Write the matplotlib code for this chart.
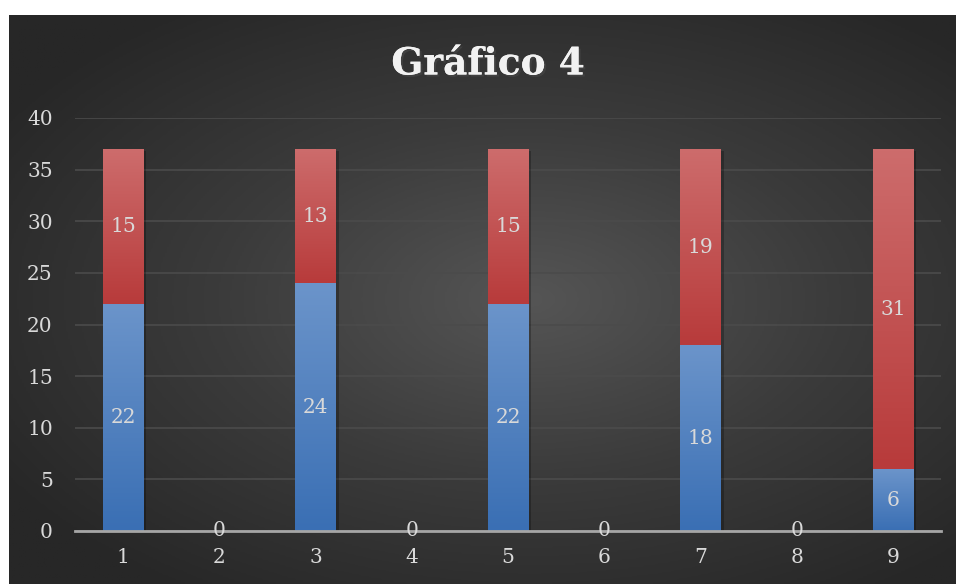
import numpy as np
import matplotlib
matplotlib.use("Agg")
import matplotlib.pyplot as plt
import matplotlib.patheffects as pe
from matplotlib.colors import LinearSegmentedColormap

# datos del gráfico
categorias = [1, 2, 3, 4, 5, 6, 7, 8, 9]
serie_azul = [22, 0, 24, 0, 22, 0, 18, 0, 6]
serie_roja = [15, 0, 13, 0, 15, 0, 19, 0, 31]
titulo = "Gráfico 4"

plt.rcParams['font.family'] = ['DejaVu Serif']
texto_col = '#d9d9d9'
tam = 14.5


def main():
    fig = plt.figure(figsize=(9.57, 5.84), dpi=100)

    # fondo oscuro con degradado radial
    bg = fig.add_axes([9 / 957, 0, 946 / 957, 569 / 584])
    yy, xx = np.mgrid[-1:1:300j, -1:1:500j]
    r = np.sqrt(((xx - 0.1) * 0.95) ** 2 + (yy * 1.0) ** 2)
    r = np.clip(r / 1.25, 0, 1)
    cmap_bg = LinearSegmentedColormap.from_list('bg', ['#555555', '#3b3b3b', '#272727'])
    bg.imshow(r, cmap=cmap_bg, aspect='auto', extent=[0, 1, 0, 1], vmin=0, vmax=1)
    bg.axis('off')

    ax = fig.add_axes([75 / 957, 1 - 531 / 584, 866 / 957, 413 / 584])
    ax.patch.set_alpha(0)
    x = np.array(categorias)
    ancho = 0.42

    b1 = ax.bar(x, serie_azul, width=ancho, color='none', zorder=3)
    b2 = ax.bar(x, serie_roja, width=ancho, bottom=serie_azul, color='none', zorder=3)

    grad = np.linspace(1, 0, 100).reshape(-1, 1)
    cmap_azul = LinearSegmentedColormap.from_list('az', ['#3a6fb4', '#6b94ca'])
    cmap_rojo = LinearSegmentedColormap.from_list('ro', ['#b83b3b', '#cd6c6c'])
    for barras, cm in ((b1, cmap_azul), (b2, cmap_rojo)):
        for p in barras:
            if p.get_height() <= 0:
                continue
            x0, y0 = p.get_x(), p.get_y()
            w, h = p.get_width(), p.get_height()
            # sombra
            ax.add_patch(plt.Rectangle((x0 + 0.03, y0 - 0.15), w, h, color='black',
                                       alpha=0.25, zorder=2, lw=0))
            im = ax.imshow(grad, cmap=cm, aspect='auto', extent=[x0, x0 + w, y0, y0 + h],
                           zorder=3, vmin=0, vmax=1)
            im.set_clip_path(p)

    # etiquetas de datos
    for xi, a, r_ in zip(x, serie_azul, serie_roja):
        if a == 0 and r_ == 0:
            ax.text(xi, 0, '0', ha='center', va='center', color=texto_col, fontsize=tam, zorder=5)
            continue
        ax.text(xi, a / 2, str(a), ha='center', va='center', color=texto_col, fontsize=tam, zorder=5)
        ax.text(xi, a + r_ / 2, str(r_), ha='center', va='center', color=texto_col, fontsize=tam, zorder=5)

    ax.set_xlim(0.5, 9.5)
    ax.set_ylim(0, 40)
    ax.set_yticks(range(0, 41, 5))
    ax.set_xticks(x)
    ax.set_xticklabels([str(c) for c in categorias])
    ax.yaxis.grid(True, color='#4b4b4b', lw=1.2, zorder=0)
    ax.set_axisbelow(True)
    for s in ['top', 'right', 'left']:
        ax.spines[s].set_visible(False)
    ax.spines['bottom'].set_color('#a6a6a6')
    ax.spines['bottom'].set_linewidth(2)
    ax.spines['bottom'].set_zorder(4)
    ax.tick_params(axis='both', length=0, colors=texto_col, labelsize=tam)
    ax.tick_params(axis='y', pad=16)
    ax.tick_params(axis='x', pad=12)

    fig.text(488 / 957, 1 - 64 / 584, titulo, ha='center', va='center', fontsize=27,
             fontweight='bold', color='#f2f2f2',
             path_effects=[pe.withSimplePatchShadow(offset=(1.5, -1.5), alpha=0.6),
                           pe.Normal()])

    fig.savefig('out.png', dpi=100, facecolor='white')


if __name__ == "__main__":
    main()
